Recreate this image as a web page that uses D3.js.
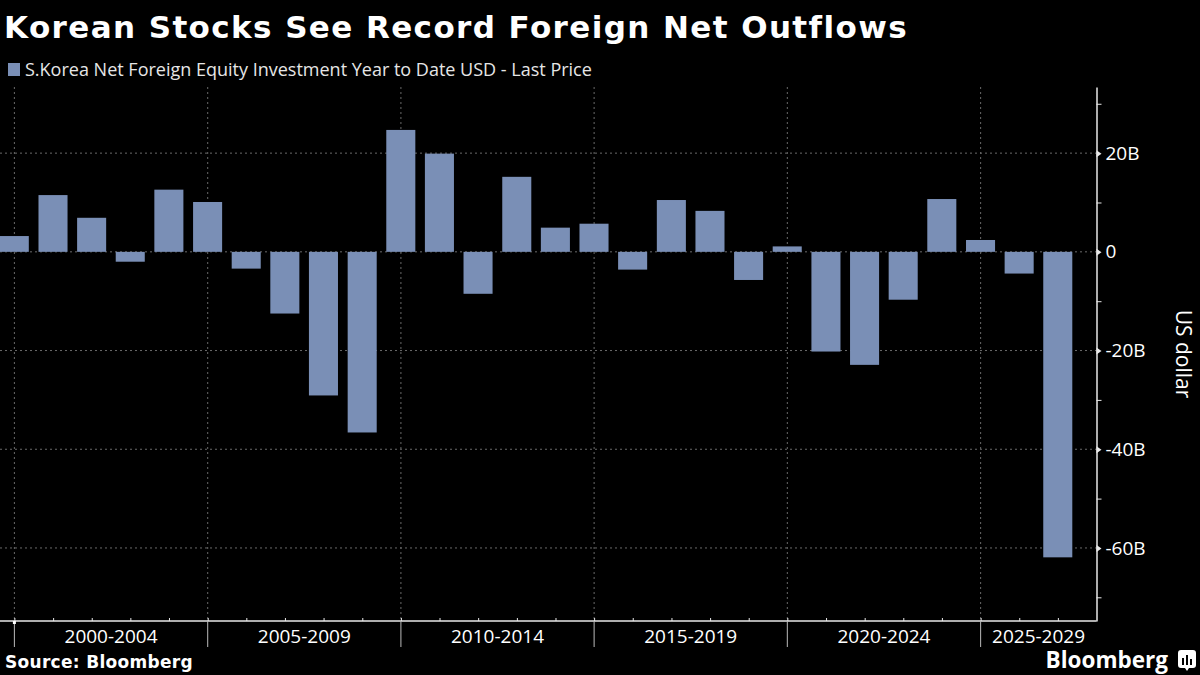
<!DOCTYPE html>
<html>
<head>
<meta charset="utf-8">
<script src="https://cdn.jsdelivr.net/npm/d3@7"></script>
<style>
  html, body { margin: 0; padding: 0; background: #000; }
  svg { display: block; }
</style>
</head>
<body>
<script>
// chart values (billions of USD, year to date)
const years = [1999, 2000, 2001, 2002, 2003, 2004, 2005, 2006, 2007, 2008,
  2009, 2010, 2011, 2012, 2013, 2014, 2015, 2016, 2017, 2018,
  2019, 2020, 2021, 2022, 2023, 2024, 2025, 2026];
const netFlows = [3.2, 11.5, 6.9, -2.0, 12.6, 10.1, -3.4, -12.5, -29.1, -36.6,
  24.7, 19.9, -8.5, 15.2, 4.9, 5.7, -3.6, 10.5, 8.3, -5.7,
  1.1, -20.2, -22.9, -9.7, 10.7, 2.4, -4.4, -61.9];
const periodStarts = [2000, 2005, 2010, 2015, 2020, 2025];
const periodLabels = ["2000-2004", "2005-2009", "2010-2014", "2015-2019", "2020-2024", "2025-2029"];
const yTicks = [20, 0, -20, -40, -60];
const yMinorTicks = [30, 10, -10, -30, -50, -70];

const W = 1200, H = 675;
const PLOT = { LEFT: 0, RIGHT: 1096.5, TOP: 87, BOTTOM: 621 };
const BAR_COLOR = "#7a8fb6";
const GRID_COLOR = "#6a6a6a";
const AXIS_COLOR = "#e8e8e8";

const svg = d3.select("body").append("svg")
  .attr("width", W)
  .attr("height", H)
  .style("background", "#000");

// scales: bars sit at year end, like the source chart
const x = d3.scaleTime()
  .domain([new Date(1999, 7, 18), new Date(2028, 0, 1)])
  .range([PLOT.LEFT, PLOT.RIGHT]);
const y = d3.scaleLinear()
  .domain([-74.8, 33.4])
  .range([PLOT.BOTTOM, PLOT.TOP]);

const barDate = (yr) => new Date(yr, 11, 31);
const step = x(new Date(2001, 0, 1)) - x(new Date(2000, 0, 1));
const barW = step * 0.75;

// title + legend
svg.append("text")
  .text("Korean Stocks See Record Foreign Net Outflows")
  .attr("x", 4)
  .attr("y", 38)
  .attr("font-family", "DejaVu Sans")
  .attr("font-weight", "bold")
  .attr("font-size", "31px")
  .attr("letter-spacing", "1.4px")
  .attr("fill", "#fff");

svg.append("rect")
  .attr("x", 8).attr("y", 63)
  .attr("width", 12).attr("height", 13)
  .attr("fill", BAR_COLOR);

svg.append("text")
  .text("S.Korea Net Foreign Equity Investment Year to Date USD - Last Price")
  .attr("x", 25)
  .attr("y", 76)
  .attr("font-family", "Open Sans")
  .attr("font-size", "18px")
  .attr("fill", "#e6e6e6");

// grid
const grid = svg.append("g").attr("class", "grid");
grid.selectAll("line.h")
  .data(yTicks)
  .enter()
  .append("line")
  .attr("class", "h")
  .attr("x1", PLOT.LEFT).attr("x2", PLOT.RIGHT)
  .attr("y1", (d) => y(d)).attr("y2", (d) => y(d))
  .attr("stroke", GRID_COLOR)
  .attr("stroke-width", 1)
  .attr("stroke-dasharray", "2,3");

grid.selectAll("line.v")
  .data(periodStarts)
  .enter()
  .append("line")
  .attr("class", "v")
  .attr("x1", (d) => x(new Date(d, 0, 1)))
  .attr("x2", (d) => x(new Date(d, 0, 1)))
  .attr("y1", PLOT.TOP).attr("y2", PLOT.BOTTOM)
  .attr("stroke", GRID_COLOR)
  .attr("stroke-width", 1)
  .attr("stroke-dasharray", "2,3");

// bars
svg.append("g")
  .selectAll("rect")
  .data(years.map((yr, i) => ({ yr, v: netFlows[i] })))
  .enter()
  .append("rect")
  .attr("x", (d) => x(barDate(d.yr)) - barW / 2)
  .attr("width", barW)
  .attr("y", (d) => y(Math.max(0, d.v)))
  .attr("height", (d) => Math.abs(y(d.v) - y(0)))
  .attr("fill", BAR_COLOR);

// right axis
const yAxis = d3.axisRight(y)
  .tickValues(yTicks)
  .tickFormat((d) => (d === 0 ? "0" : d + "B"))
  .tickSize(0)
  .tickPadding(9);

const yG = svg.append("g")
  .attr("transform", `translate(${PLOT.RIGHT},0)`)
  .call(yAxis);
yG.select(".domain").attr("stroke", AXIS_COLOR).attr("stroke-width", 1.5);
yG.selectAll("text")
  .attr("font-family", "Open Sans")
  .attr("font-size", "19px")
  .attr("fill", "#fff");
// little pointers on labelled ticks
yG.selectAll(".tick")
  .append("path")
  .attr("d", "M0,-3.5L5,0L0,3.5Z")
  .attr("fill", AXIS_COLOR);

svg.append("g")
  .attr("transform", `translate(${PLOT.RIGHT},0)`)
  .call(d3.axisRight(y).tickValues(yMinorTicks).tickSize(5).tickFormat(""))
  .call((g) => g.select(".domain").remove())
  .selectAll("line")
  .attr("stroke", AXIS_COLOR);

svg.append("text")
  .text("US dollar")
  .attr("transform", `translate(1176, ${354}) rotate(90)`)
  .attr("text-anchor", "middle")
  .attr("font-family", "Open Sans")
  .attr("font-size", "21px")
  .attr("fill", "#fff");

// bottom axis: year ticks upward, period ticks downward
const xG = svg.append("g").attr("transform", `translate(0,${PLOT.BOTTOM})`);
xG.append("line")
  .attr("x1", PLOT.LEFT).attr("x2", PLOT.RIGHT)
  .attr("stroke", AXIS_COLOR).attr("stroke-width", 1.5);

xG.call(d3.axisTop(x)
    .tickValues(years.slice(1).concat([2027]).map((yr) => new Date(yr, 0, 1)))
    .tickSize(3)
    .tickFormat(""))
  .call((g) => g.select(".domain").remove())
  .selectAll("line").attr("stroke", AXIS_COLOR);

xG.selectAll("line.major")
  .data(periodStarts)
  .enter()
  .append("line")
  .attr("class", "major")
  .attr("x1", (d) => x(new Date(d, 0, 1)))
  .attr("x2", (d) => x(new Date(d, 0, 1)))
  .attr("y1", 0).attr("y2", 26)
  .attr("stroke", "#bbb")
  .attr("stroke-width", 1);

xG.append("rect")
  .attr("x", x(new Date(2000, 0, 1)) - 1.5).attr("y", 0)
  .attr("width", 3).attr("height", 3)
  .attr("fill", "#fff");

xG.selectAll("text.period")
  .data(periodLabels)
  .enter()
  .append("text")
  .attr("class", "period")
  .text((d) => d)
  .attr("x", (d, i) => {
    const a = x(new Date(periodStarts[i], 0, 1));
    const b = i + 1 < periodStarts.length ? x(new Date(periodStarts[i + 1], 0, 1)) : PLOT.RIGHT;
    return (a + b) / 2;
  })
  .attr("y", 22)
  .attr("text-anchor", "middle")
  .attr("font-family", "Open Sans")
  .attr("font-size", "19px")
  .attr("fill", "#fff");

// footer
svg.append("text")
  .text("Source: Bloomberg")
  .attr("x", 5)
  .attr("y", 668)
  .attr("font-family", "DejaVu Sans")
  .attr("font-weight", "bold")
  .attr("font-size", "17px")
  .attr("letter-spacing", "0.3px")
  .attr("fill", "#fff");

svg.append("text")
  .text("Bloomberg")
  .attr("x", 1168)
  .attr("y", 668)
  .attr("text-anchor", "end")
  .attr("font-family", "Open Sans")
  .attr("font-weight", "bold")
  .attr("font-size", "22.5px")
  .attr("fill", "#fff");

const logo = svg.append("g").attr("transform", "translate(1178,650)");
logo.append("path")
  .attr("d", "M3,0H15A3,3 0 0 1 18,3V15A3,3 0 0 1 15,18H11L9,21L7,18H3A3,3 0 0 1 0,15V3A3,3 0 0 1 3,0Z")
  .attr("fill", "#fff");
logo.selectAll("rect")
  .data([[4, 8, 7], [8, 5, 10], [12, 9, 6]])
  .enter()
  .append("rect")
  .attr("x", (d) => d[0]).attr("y", (d) => d[1])
  .attr("width", 2).attr("height", (d) => d[2])
  .attr("fill", "#000");
</script>
</body>
</html>
